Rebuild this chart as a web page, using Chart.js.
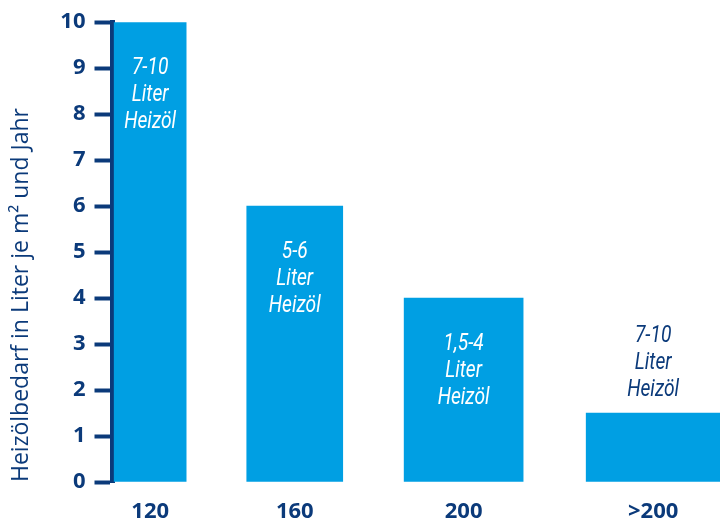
<!DOCTYPE html>
<html>
<head>
<meta charset="utf-8">
<script src="https://cdn.jsdelivr.net/npm/chart.js@4.4.1/dist/chart.umd.min.js"></script>
<style>
  body { margin: 0; background: #fff; }
  canvas { display: block; }
</style>
</head>
<body>
<canvas id="chart" width="720" height="524"></canvas>
<script>
// Data
const categories = ['120', '160', '200', '>200'];
const demand = [10, 6, 4, 1.5];
const rangeLabels = ['7-10', '5-6', '1,5-4', '7-10'];
const unitLines = ['Liter', 'Heizöl'];
const yTicks = [0, 1, 2, 3, 4, 5, 6, 7, 8, 9, 10];

// Layout: where each bar sits on the x scale (0..10) and how wide it is
const slots = [0.62, 3.0, 5.78, 8.9];
const barWidths = [72, 96, 119, 134];

const navy = '#0b3a7a';
const blue = '#009fe3';

const datasets = categories.map((cat, i) => ({
    label: cat,
    data: [{ x: slots[i], y: demand[i] }],
    backgroundColor: blue,
    borderWidth: 0,
    barThickness: barWidths[i],
    grouped: false
}));

// Draws the "x-y Liter Heizöl" notes on / above each bar
const barNotes = {
    id: 'barNotes',
    afterDatasetsDraw(chart) {
        const ctx = chart.ctx;
        const yScale = chart.scales.y;
        const lineH = 27;
        ctx.save();
        ctx.font = 'italic 24px Roboto';
        ctx.textAlign = 'center';
        ctx.textBaseline = 'middle';
        chart.data.datasets.forEach((ds, i) => {
            const bar = chart.getDatasetMeta(i).data[0];
            const lines = [rangeLabels[i]].concat(unitLines);
            const height = bar.base - bar.y;
            let firstY, color;
            if (height > lineH * 3 + 40) {
                firstY = yScale.getPixelForValue(demand[i] - 1);
                color = '#ffffff';
            } else {
                firstY = bar.y - 23 - lineH * (lines.length - 1);
                color = navy;
            }
            ctx.fillStyle = color;
            lines.forEach((txt, k) => {
                ctx.save();
                ctx.translate(bar.x, firstY + k * lineH);
                ctx.scale(0.8, 1);
                ctx.fillText(txt, 0, 0);
                ctx.restore();
            });
        });
        ctx.restore();
    }
};

new Chart(document.getElementById('chart'), {
    type: 'bar',
    data: { datasets: datasets },
    plugins: [barNotes],
    options: {
        responsive: false,
        animation: false,
        layout: { padding: { top: 22, right: 0, bottom: 0, left: 0 } },
        plugins: {
            legend: { display: false },
            tooltip: { enabled: false }
        },
        scales: {
            x: {
                type: 'linear',
                min: 0,
                max: 10,
                offset: false,
                afterFit: (scale) => { scale.height = 42; },
                afterBuildTicks: (scale) => {
                    scale.ticks = slots.map(v => ({ value: v }));
                },
                grid: { display: false, drawTicks: false, offset: false },
                border: { display: false },
                ticks: {
                    autoSkip: false,
                    maxRotation: 0,
                    padding: 17,
                    color: navy,
                    font: { family: 'Open Sans', size: 22, weight: 'bold' },
                    callback: (value, index) => categories[index]
                }
            },
            y: {
                min: 0,
                max: 10,
                afterFit: (scale) => { scale.width = 112.5; },
                afterBuildTicks: (scale) => {
                    scale.ticks = yTicks.map(v => ({ value: v }));
                },
                grid: {
                    drawOnChartArea: false,
                    tickLength: 18,
                    tickWidth: 4,
                    tickColor: navy
                },
                border: { display: true, width: 5, color: navy },
                ticks: {
                    padding: 9,
                    color: navy,
                    font: { family: 'Open Sans', size: 22, weight: 'bold' }
                },
                title: {
                    display: true,
                    text: 'Heizölbedarf in Liter je m² und Jahr',
                    align: 'start',
                    color: navy,
                    padding: { top: 8, bottom: 0 },
                    font: { family: 'Open Sans', size: 23 }
                }
            }
        }
    }
});
</script>
</body>
</html>
